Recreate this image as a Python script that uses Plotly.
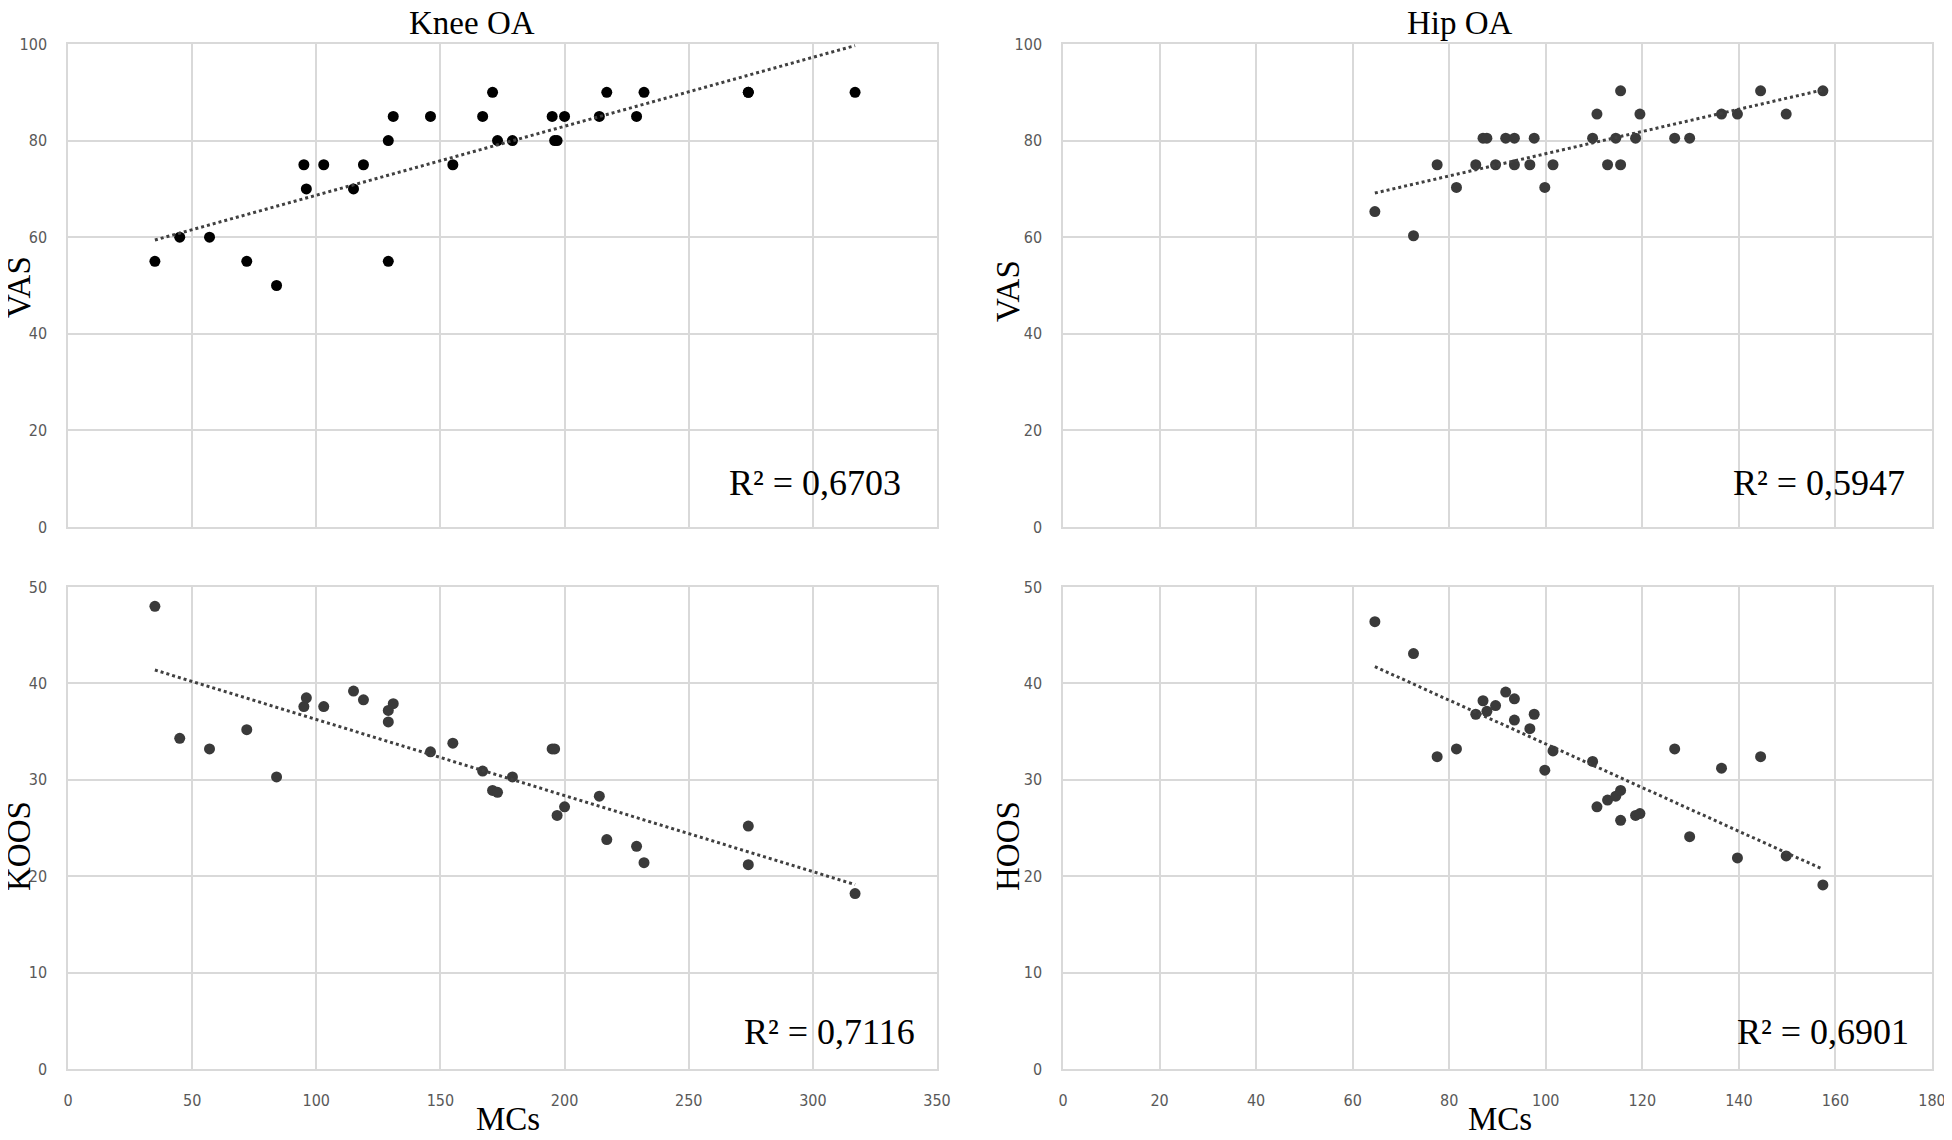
import numpy as np
import plotly.graph_objects as go
from plotly.subplots import make_subplots

# Knee OA
knee_mcs = [35, 45, 57, 72, 84, 95, 96, 103, 115, 119, 129, 129, 131, 146, 155,
            167, 171, 173, 179, 195, 196, 197, 200, 214, 217, 229, 232, 274, 274, 317]
knee_vas = [55, 60, 60, 55, 50, 75, 70, 75, 70, 75, 80, 55, 85, 85, 75,
            85, 90, 80, 80, 85, 80, 80, 85, 85, 90, 85, 90, 90, 90, 90]
knee_koos = [48.0, 34.3, 33.2, 35.2, 30.3, 37.6, 38.5, 37.6, 39.2, 38.3, 37.2, 36.0, 37.9, 32.9, 33.8,
             30.9, 28.9, 28.7, 30.3, 33.2, 33.2, 26.3, 27.2, 28.3, 23.8, 23.1, 21.4, 25.2, 21.2, 18.2]

# Hip OA
hip_mcs = [64.6, 72.6, 77.5, 81.5, 85.5, 87.0, 87.8, 89.6, 91.7, 93.5, 93.5, 96.7, 97.6, 99.8, 101.5,
           109.7, 110.6, 112.8, 114.5, 115.5, 115.5, 118.6, 119.5, 126.7, 129.8, 136.4, 139.7, 144.5, 149.8, 157.4]
hip_vas = [65.3, 60.3, 75, 70.3, 75, 80.5, 80.5, 75, 80.5, 80.5, 75, 75, 80.5, 70.3, 75,
           80.5, 85.5, 75, 80.5, 90.3, 75, 80.5, 85.5, 80.5, 80.5, 85.5, 85.5, 90.3, 85.5, 90.3]
hip_mcs_hoos = [64.6, 72.6, 77.5, 81.5, 85.5, 87.0, 87.8, 89.6, 91.7, 93.5, 93.5, 96.7, 97.6, 99.8, 101.5,
                109.7, 110.6, 112.8, 114.5, 115.5, 115.5, 118.6, 119.5, 126.7, 129.8, 136.4, 139.7, 144.5, 149.8, 157.4]
hip_hoos = [46.4, 43.1, 32.4, 33.2, 36.8, 38.2, 37.1, 37.7, 39.1, 38.4, 36.2, 35.3, 36.8, 31.0, 33.0,
            31.9, 27.2, 27.9, 28.3, 28.9, 25.8, 26.3, 26.5, 33.2, 24.1, 31.2, 21.9, 32.4, 22.1, 19.1]

r2_labels = ["R² = 0,6703", "R² = 0,5947", "R² = 0,7116", "R² = 0,6901"]
titles = ["Knee OA", "Hip OA"]
y_titles = ["VAS", "VAS", "KOOS", "HOOS"]

# la page ajoute 8px de marge autour de la figure
OFF = 8
W, H = 1952 - 2 * OFF, 1140 - 2 * OFF


def px_x(p):
    return (p - OFF) / W


def px_y(p):
    return 1 - (p - OFF) / H


GRID = "#d9d9d9"
TICK_FONT = dict(family="DejaVu Sans Condensed, Liberation Sans Narrow, sans-serif", size=16, color="#595959")
SERIF = "Liberation Serif, Times New Roman, serif"

fig = make_subplots(rows=2, cols=2)

panels = [
    (1, 1, knee_mcs, knee_vas, "#000000"),
    (1, 2, hip_mcs, hip_vas, "#3a3a3a"),
    (2, 1, knee_mcs, knee_koos, "#3a3a3a"),
    (2, 2, hip_mcs_hoos, hip_hoos, "#3a3a3a"),
]

for row, col, xs, ys, color in panels:
    fig.add_trace(go.Scatter(x=xs, y=ys, mode="markers",
                             marker=dict(color=color, size=11),
                             showlegend=False), row=row, col=col)
    # linear trendline
    k, b = np.polyfit(xs, ys, 1)
    x_fit = [min(xs), max(xs)]
    y_fit = [k * v + b for v in x_fit]
    fig.add_trace(go.Scatter(x=x_fit, y=y_fit, mode="lines",
                             line=dict(color="#404040", width=3, dash="dot"),
                             showlegend=False), row=row, col=col)

# domaines des axes (pixels -> papier)
x_left = [px_x(68), px_x(937)]
x_right = [px_x(1063), px_x(1932)]
y_top = [px_y(527), px_y(44)]
y_bot = [px_y(1069), px_y(587)]

axis_common = dict(showgrid=True, gridcolor=GRID, gridwidth=1.5, zeroline=False,
                   showline=True, linecolor=GRID, linewidth=1.5, mirror=True,
                   tickfont=TICK_FONT, ticks="", automargin=False,
                   ticklabeloverflow="allow")

fig.update_layout(
    xaxis=dict(domain=x_left, range=[0, 350], dtick=50, showticklabels=False, **axis_common),
    xaxis2=dict(domain=x_right, range=[0, 180], dtick=20, showticklabels=False, **axis_common),
    xaxis3=dict(domain=x_left, range=[0, 350], dtick=50, ticklabelstandoff=16, **axis_common),
    xaxis4=dict(domain=x_right, range=[0, 180], dtick=20, ticklabelstandoff=16, **axis_common),
    yaxis=dict(domain=y_top, range=[0, 100], dtick=20, ticklabelstandoff=16, **axis_common),
    yaxis2=dict(domain=y_top, range=[0, 100], dtick=20, ticklabelstandoff=16, **axis_common),
    yaxis3=dict(domain=y_bot, range=[0, 50], dtick=10, ticklabelstandoff=16, **axis_common),
    yaxis4=dict(domain=y_bot, range=[0, 50], dtick=10, ticklabelstandoff=16, **axis_common),
)

ann = []
# titres
ann.append(dict(text=titles[0], x=px_x(472), y=px_y(23), font=dict(family=SERIF, size=33, color="black")))
ann.append(dict(text=titles[1], x=px_x(1460), y=px_y(23), font=dict(family=SERIF, size=33, color="black")))
# titres axe y
for txt, ax, ay in zip(y_titles, [19, 1008, 19, 1008], [287, 291, 846, 846]):
    ann.append(dict(text=txt, x=px_x(ax), y=px_y(ay), textangle=-90,
                    font=dict(family=SERIF, size=33, color="black")))
# titres axe x
for ax in [508, 1500]:
    ann.append(dict(text="MCs", x=px_x(ax), y=px_y(1119),
                    font=dict(family=SERIF, size=33, color="black")))
# R²
for txt, ax, ay in zip(r2_labels, [903, 1907, 917, 1911], [483, 483, 1032, 1032]):
    ann.append(dict(text=txt, x=px_x(ax), y=px_y(ay), xanchor="right",
                    font=dict(family=SERIF, size=36, color="black")))

for a in ann:
    a.update(xref="paper", yref="paper", showarrow=False)
    a.setdefault("xanchor", "center")
    a.setdefault("yanchor", "middle")

fig.update_layout(
    annotations=ann,
    width=W, height=H,
    margin=dict(l=0, r=0, t=0, b=0, autoexpand=False),
    paper_bgcolor="white", plot_bgcolor="white",
    showlegend=False,
)

fig.write_html("out.html")
